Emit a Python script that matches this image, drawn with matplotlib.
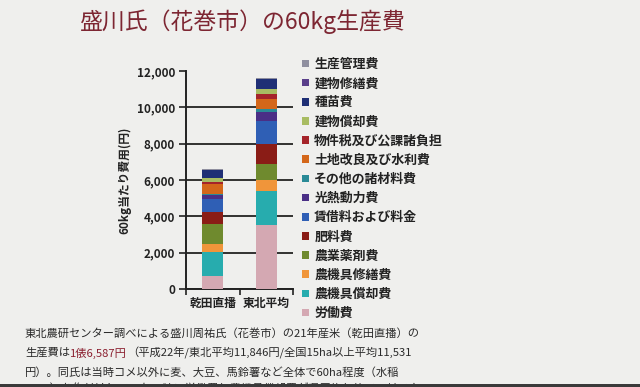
import matplotlib
matplotlib.use("Agg")
import matplotlib.pyplot as plt
from matplotlib.patches import Rectangle, Patch
import numpy as np

plt.rcParams['font.family'] = ['Noto Sans CJK JP', 'DejaVu Sans']

categories = ["乾田直播", "東北平均"]
items = ["労働費", "農機具償却費", "農機具修繕費", "農業薬剤費", "肥料費",
         "賃借料および料金", "光熱動力費", "その他の諸材料費", "土地改良及び水利費",
         "物件税及び公課諸負担", "建物償却費", "種苗費", "建物修繕費", "生産管理費"]
direct_seeding = [700, 1320, 460, 1100, 650, 720, 200, 60, 560, 140, 190, 440, 25, 22]
tohoku_avg = [3550, 1850, 580, 920, 1080, 1280, 480, 150, 560, 280, 300, 520, 30, 30]
colors = ["#d4a8b2", "#27acae", "#f0953a", "#6f8a2e", "#8a1c16", "#2f5fb5", "#4a2f86",
          "#2a8a96", "#d4671a", "#a5242a", "#a8bc62", "#1f2f75", "#5a3f8a", "#8f8f9f"]
yticks = [0, 2000, 4000, 6000, 8000, 10000, 12000]

bg = "#efefed"
fig = plt.figure(figsize=(6.4, 3.87), dpi=100, facecolor=bg)
ax = fig.add_axes([186/640, 1-289/387, 107/640, 218/387])
ax.set_facecolor(bg)

x = np.arange(len(categories))
data = np.array([direct_seeding, tohoku_avg])
bottom = np.zeros(len(categories))
handles = []
for i, name in enumerate(items):
    ax.bar(x, data[:, i], bottom=bottom, width=0.4, color=colors[i], label=name, zorder=3)
    bottom += data[:, i]
    handles.append(Patch(facecolor=colors[i], label=name))

ax.set_xlim(-0.5, 1.5)
ax.set_ylim(0, 12000)
ax.set_yticks(yticks)
ax.set_yticklabels([f"{v:,}" for v in yticks], fontsize=8.5, fontweight='bold', color='#222')
ax.set_xticks(x)
ax.set_xticklabels(categories, fontsize=8.5, fontweight='bold', color='#222')
ax.tick_params(axis='x', which='major', length=0, pad=6)
ax.set_xticks([-0.5, 0.5, 1.5], minor=True)
ax.tick_params(axis='x', which='minor', length=4, width=1.2, direction='out', color='#222')
ax.tick_params(axis='y', length=5, width=1.2, direction='out', color='#222', pad=3)
ax.yaxis.grid(True, color='#111', linewidth=1.2, zorder=1)
ax.get_ygridlines()[-1].set_visible(False)
ax.set_axisbelow(True)
for s in ['top', 'right']:
    ax.spines[s].set_visible(False)
for s in ['left', 'bottom']:
    ax.spines[s].set_color('#222')
    ax.spines[s].set_linewidth(1.4)
ax.set_ylabel("60kg当たり費用(円)", fontsize=8.5, fontweight='bold', color='#222', labelpad=4)

leg = fig.legend(handles=handles[::-1], loc='upper left', bbox_to_anchor=(302/640, 1-57/387),
                 frameon=False, fontsize=9.3, handlelength=0.55, handleheight=0.55,
                 handletextpad=0.4, labelspacing=0.40, borderaxespad=0, borderpad=0)
for t in leg.get_texts():
    t.set_fontweight('bold')
    t.set_color('#222')

fig.text(243/640, 1-22/387, "盛川氏（花巻市）の60kg生産費", fontsize=16.5, color='#7d2632',
         ha='center', va='center')

fs = 8.1
txtc = '#2a2a2a'
lx = 25/640
fig.text(lx, 1-333/387, "東北農研センター調べによる盛川周祐氏（花巻市）の21年産米（乾田直播）の",
         fontsize=fs, color=txtc, va='center')
renderer = fig.canvas.get_renderer()
parts = [("生産費は", txtc), ("1俵6,587円", '#8b2030'),
         ("（平成22年/東北平均11,846円/全国15ha以上平均11,531", txtc)]
cx = lx
for s, c in parts:
    t = fig.text(cx, 1-353/387, s, fontsize=fs, color=c, va='center')
    bb = t.get_window_extent(renderer=renderer)
    cx = bb.x1 / fig.bbox.width
fig.text(lx, 1-373/387, "円）。同氏は当時コメ以外に麦、大豆、馬鈴薯など全体で60ha程度（水稲",
         fontsize=fs, color=txtc, va='center')
fig.text(lx, 1-389/387, "15ha）を作付けしていた。特に労働費と農機具償却費が県平均と比べてはるか",
         fontsize=fs, color=txtc, va='center')
fig.patches.append(Rectangle((0, 0), 1, 3/387, transform=fig.transFigure,
                             facecolor='#3a3a3a', edgecolor='none', zorder=5))

fig.savefig("out.png", dpi=100, facecolor=bg)
